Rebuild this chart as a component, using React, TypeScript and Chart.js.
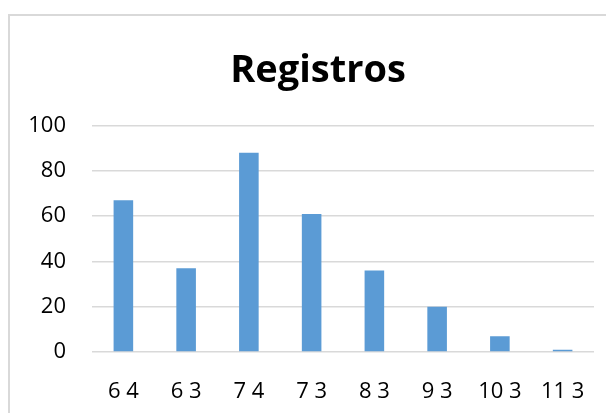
import React, { useEffect, useRef } from "react";
import { Chart, registerables } from "chart.js";

Chart.register(...registerables);

const categories: string[] = ["6 4", "6 3", "7 4", "7 3", "8 3", "9 3", "10 3", "11 3"];
const registros: number[] = [67, 37, 88, 61, 36, 20, 7, 1];
const yTicks: number[] = [0, 20, 40, 60, 80, 100];
const titleText = "Registros";

export default function App() {
  const ref = useRef<HTMLCanvasElement | null>(null);

  useEffect(() => {
    document.body.style.overflow = "hidden";
    if (!ref.current) return;
    const fontFamily = "'Open Sans', sans-serif";
    const chart = new Chart(ref.current, {
      type: "bar",
      data: {
        labels: categories,
        datasets: [
          {
            label: titleText,
            data: registros,
            backgroundColor: "#5B9BD5",
            borderWidth: 0,
            categoryPercentage: 0.8,
            barPercentage: 0.39,
            yAxisID: "y",
          },
        ],
      },
      options: {
        animation: false,
        responsive: false,
        maintainAspectRatio: false,
        layout: { padding: 0 },
        plugins: {
          legend: { display: false },
          tooltip: { enabled: false },
          title: {
            display: true,
            text: titleText,
            color: "#000",
            font: { family: fontFamily, size: 38, weight: "bold" },
            padding: { top: 32, bottom: 32 },
          },
        },
        scales: {
          x: {
            grid: { display: false, drawTicks: false },
            border: { display: false },
            afterFit: (scale: any) => {
              scale.height = 60;
            },
            ticks: {
              color: "#000",
              font: { family: fontFamily, size: 22 },
              padding: 27,
              maxRotation: 0,
              autoSkip: false,
            },
          },
          y: {
            min: 0,
            max: 100,
            afterBuildTicks: (axis: any) => {
              axis.ticks = yTicks.map((v) => ({ value: v }));
            },
            afterFit: (scale: any) => {
              scale.width = 82;
            },
            grid: { color: "#d9d9d9", lineWidth: 1.5, drawTicks: false },
            border: { display: false },
            ticks: {
              color: "#000",
              font: { family: fontFamily, size: 22 },
              padding: 26,
            },
          },
          spacer: {
            type: "linear",
            position: "right",
            display: true,
            grid: { display: false, drawTicks: false },
            border: { display: false },
            ticks: { display: false },
            afterFit: (scale: any) => {
              scale.width = 32;
            },
          },
        },
      },
    });
    return () => chart.destroy();
  }, []);

  return (
    <div
      style={{
        marginTop: 6,
        width: 606,
        height: 399,
        overflow: "hidden",
        borderLeft: "2px solid #d9d9d9",
        borderTop: "2px solid #d9d9d9",
        boxSizing: "border-box",
        background: "#fff",
      }}
    >
      <canvas ref={ref} width={616} height={396} style={{ display: "block" }} />
    </div>
  );
}
